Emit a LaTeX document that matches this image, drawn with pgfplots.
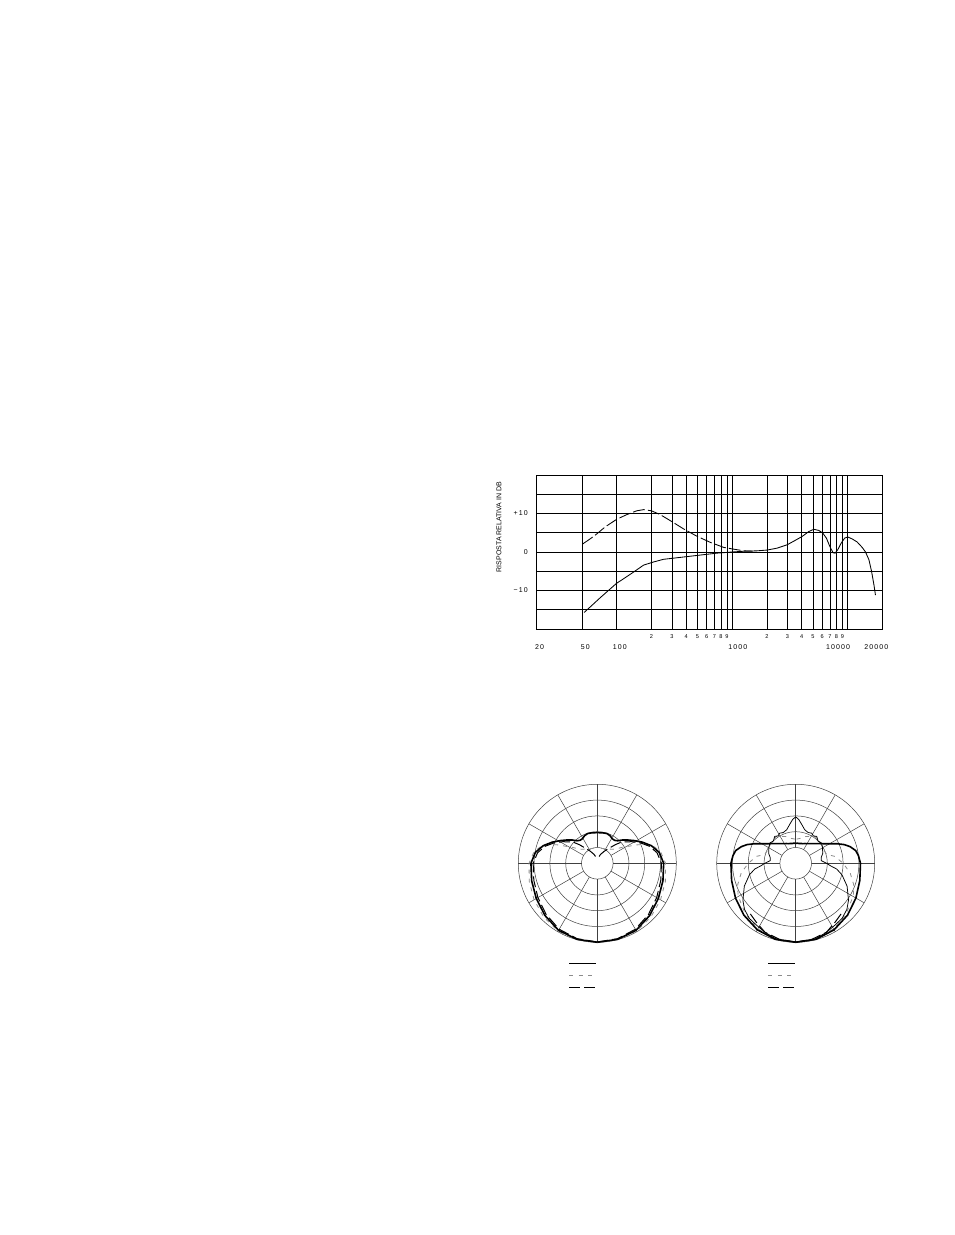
\documentclass[border=0pt]{standalone}
\usepackage{fontspec}
\setmainfont{Liberation Sans}
\newfontfamily\tickfont[LetterSpace=16]{Liberation Sans}
\usepackage{pgfplots}
\usepackage{pgfplotstable}
\pgfplotsset{compat=1.18}
\newcommand\lab[2]{\makebox[0pt]{\hspace*{#1}\hspace*{#1}#2}}

% frequency response (Hz, dB)
\pgfplotstableread{
f db
52.2 -15.7
58.8 -14.3
71.8 -11.9
84.7 -10.0
100 -8.1
114 -7.0
140 -5.2
171 -3.4
208 -2.6
254 -1.9
332 -1.5
494 -0.9
737 -0.3
1000 0
1262 0.2
1637 0.3
2000 0.5
2444 1.0
3000 1.9
3404 2.8
4016 4.0
4592 5.3
5081 5.9
5615 5.6
6080 4.9
6535 3.6
6985 1.5
7460 -0.2
7780 -0.3
8200 0.6
8770 2.3
9400 3.6
10000 3.9
10920 3.4
12060 2.6
13330 1.2
14250 0
15250 -2.0
16070 -5.0
16830 -8.4
17380 -11.2
}\solid
\pgfplotstableread{
f db
50.8 2.1
58.8 3.4
67.2 4.7
79.3 6.5
100 8.5
122 9.7
149 10.7
171 11.0
200 10.7
238 9.7
300 7.9
379 6.0
494 4.1
646 2.5
842 1.2
1000 0.8
1262 0.3
1500 0.2
}\dashed

% polar patterns: t = angle from front (deg), r = 25 + dB
\pgfplotstableread{
t r
0 25.0
15 24.9
30 24.5
45 23.4
60 22.3
75 21.5
90 21.0
100 19.9
108 18.0
115 15.8
122 13.6
128 12.0
133 10.8
138 9.6
143 9.1
149 9.1
155 9.6
162 9.9
170 9.8
180 9.7
}\LA
\pgfplotstableread{
t r
0 24.9
15 24.7
30 24.1
45 22.9
60 21.7
75 20.8
90 20.3
100 19.2
108 17.4
115 15.2
122 12.9
128 11.0
132 9.8
136 8.2
140 6.6
145 5.3
150 4.4
160 3.0
170 1.8
180 1.2
}\LB
\pgfplotstableread{
t r
0 25.0
15 25.0
30 24.8
45 24.0
60 23.1
75 22.3
90 21.6
100 20.4
106 18.8
110 17.3
115 13.8
118 11.6
123 9.2
128 7.3
135 6.3
145 5.6
155 5.1
165 4.9
180 4.7
}\LC
\pgfplotstableread{
t r
0 25.0
15 24.9
30 24.3
45 23.2
60 22.0
75 21.0
90 20.5
97 20.0
102 19.4
107 18.0
111 16.5
115 14.6
120 12.4
125 10.8
130 9.7
135 8.8
140 8.1
145 7.6
150 7.2
155 6.9
160 6.6
165 6.5
170 6.35
175 6.4
180 6.3
}\RA
\pgfplotstableread{
t r
0 25.0
15 24.7
24 23.9
32 23.2
40 22.8
48 21.8
55 20.4
66 17.8
76 15.1
82 13.1
86 11.0
90 9.8
96 8.1
103 8.3
110 9.1
120 9.8
128 10.4
135 10.0
142 10.8
147 10.3
152 10.8
158 10.5
165 11.0
171 12.4
176 13.9
180 14.7
}\RD
\pgfplotstableread{
t r
0 25.0
15 24.8
30 24.0
45 22.6
61 20.9
70 19.5
80 17.5
90 15.0
100 12.6
106 10.2
115 9.8
130 10.2
145 10.5
160 9.0
170 8.0
180 7.6
}\RC
\pgfplotstableread{
t r
0 24.9
12 24.6
24 23.9
34 22.4
42 21.5
}\RB

\pgfplotsset{
  polarbox/.style={scale only axis, width=158pt, height=158pt,
    xmin=-25, xmax=25, ymin=-25, ymax=25, hide axis, clip=false},
  pthick/.style={black, line width=1.6pt, data cs=polar},
  pthin/.style={black, line width=0.75pt, data cs=polar},
  pgray/.style={black!45, line width=0.8pt, dash pattern=on 4pt off 5pt, data cs=polar},
  plong/.style={black, line width=1.0pt, dash pattern=on 11pt off 4pt, data cs=polar},
}
\tikzset{pgrid/.style={black!75, line width=0.5pt}}
\newcommand\drawpolargrid{%
  \draw[pgrid] (axis cs:0,0) circle[radius=5];
  \draw[pgrid] (axis cs:0,0) circle[radius=10];
  \draw[pgrid] (axis cs:0,0) circle[radius=15];
  \draw[pgrid] (axis cs:0,0) circle[radius=20];
  \draw[pgrid] (axis cs:0,0) circle[radius=25];
  \pgfplotsinvokeforeach{0,30,60,90,120,150,180,210,240,270,300,330}{%
    \draw[pgrid] (axis cs:{5*cos(##1)},{5*sin(##1)}) -- (axis cs:{25*cos(##1)},{25*sin(##1)});}%
}

\begin{document}
\begin{tikzpicture}
\fill[white] (0,0) rectangle (954pt,1235pt);
\path[use as bounding box] (0,0) rectangle (954pt,1235pt);

% ---------- frequency response ----------
\begin{axis}[
  at={(536pt,606pt)}, anchor=south west,
  scale only axis, width=346.5pt, height=154pt,
  xmode=log, xmin=20, xmax=20000, ymin=-20, ymax=20,
  axis line style={black, line width=0.8pt},
  grid=major, major grid style={black, line width=0.65pt},
  xminorgrids=false, minor xtick={},
  major tick length=0pt, minor tick length=0pt,
  xtick={20,50,100,1000,10000,20000},
  xticklabels={\lab{3.5pt}{20},\lab{3.3pt}{50},\lab{3pt}{100},\lab{5.5pt}{1000},\lab{-9.7pt}{10000},\lab{-6.2pt}{20000}},
  xticklabel style={font=\tickfont\fontsize{7}{8}\selectfont, anchor=base, inner sep=0pt, yshift=-21pt},
  extra x ticks={200,300,400,500,600,700,800,900,2000,3000,4000,5000,6000,7000,8000,9000},
  extra x tick labels={2,3,4,5,6,7,8,9,2,3,4,5,6,7,8,9},
  extra x tick style={grid=major, xticklabel style={font=\fontsize{5.6}{6}\selectfont, yshift=11pt}},
  ytick={-20,-15,...,20},
  yticklabels={,,\textminus10,,0,,+10,,},
  yticklabel style={font=\tickfont\fontsize{7}{8}\selectfont, anchor=east, inner sep=0pt, xshift=-8pt},
  ylabel={RISPOSTA RELATIVA IN DB},
  ylabel style={at={(rel axis cs:-0.107,0.662)}, anchor=center, font=\fontsize{7}{8}\selectfont},
]
\addplot[black, line width=0.85pt] table[x=f, y=db] {\solid};
\addplot[black, line width=0.85pt, dash pattern=on 12pt off 3pt] table[x=f, y=db] {\dashed};
\end{axis}

% ---------- polar left ----------
\begin{axis}[polarbox, at={(597.3pt,371.7pt)}, anchor=center]
\drawpolargrid
\addplot[pgray] table[x expr={270-\thisrow{t}}, y=r] {\LC};
\addplot[pgray] table[x expr={270+\thisrow{t}}, y=r] {\LC};
\addplot[plong] table[x expr={270-\thisrow{t}}, y=r] {\LB};
\addplot[plong] table[x expr={270+\thisrow{t}}, y=r] {\LB};
\addplot[pthick] table[x expr={270-\thisrow{t}}, y=r] {\LA};
\addplot[pthick] table[x expr={270+\thisrow{t}}, y=r] {\LA};
\end{axis}

% ---------- polar right ----------
\begin{axis}[polarbox, at={(795.7pt,371.7pt)}, anchor=center]
\drawpolargrid
\addplot[pgray] table[x expr={270-\thisrow{t}}, y=r] {\RC};
\addplot[pgray] table[x expr={270+\thisrow{t}}, y=r] {\RC};
\addplot[plong] table[x expr={270-\thisrow{t}}, y=r] {\RB};
\addplot[plong] table[x expr={270+\thisrow{t}}, y=r] {\RB};
\addplot[pthin] table[x expr={270-\thisrow{t}}, y=r] {\RD};
\addplot[pthin] table[x expr={270+\thisrow{t}}, y=r] {\RD};
\addplot[pthick] table[x expr={270-\thisrow{t}}, y=r] {\RA};
\addplot[pthick] table[x expr={270+\thisrow{t}}, y=r] {\RA};
\end{axis}

% ---------- legend keys ----------
\foreach \x in {569pt,768.3pt}{
  \draw[black, line width=1.0pt] (\x,271.7pt) -- ++(26.5pt,0);
  \draw[black!45, line width=0.8pt, dash pattern=on 4pt off 5.5pt] (\x,260pt) -- ++(26.5pt,0);
  \draw[black, line width=1.2pt, dash pattern=on 11pt off 4pt] (\x,247.7pt) -- ++(26.5pt,0);
}
\end{tikzpicture}
\end{document}
